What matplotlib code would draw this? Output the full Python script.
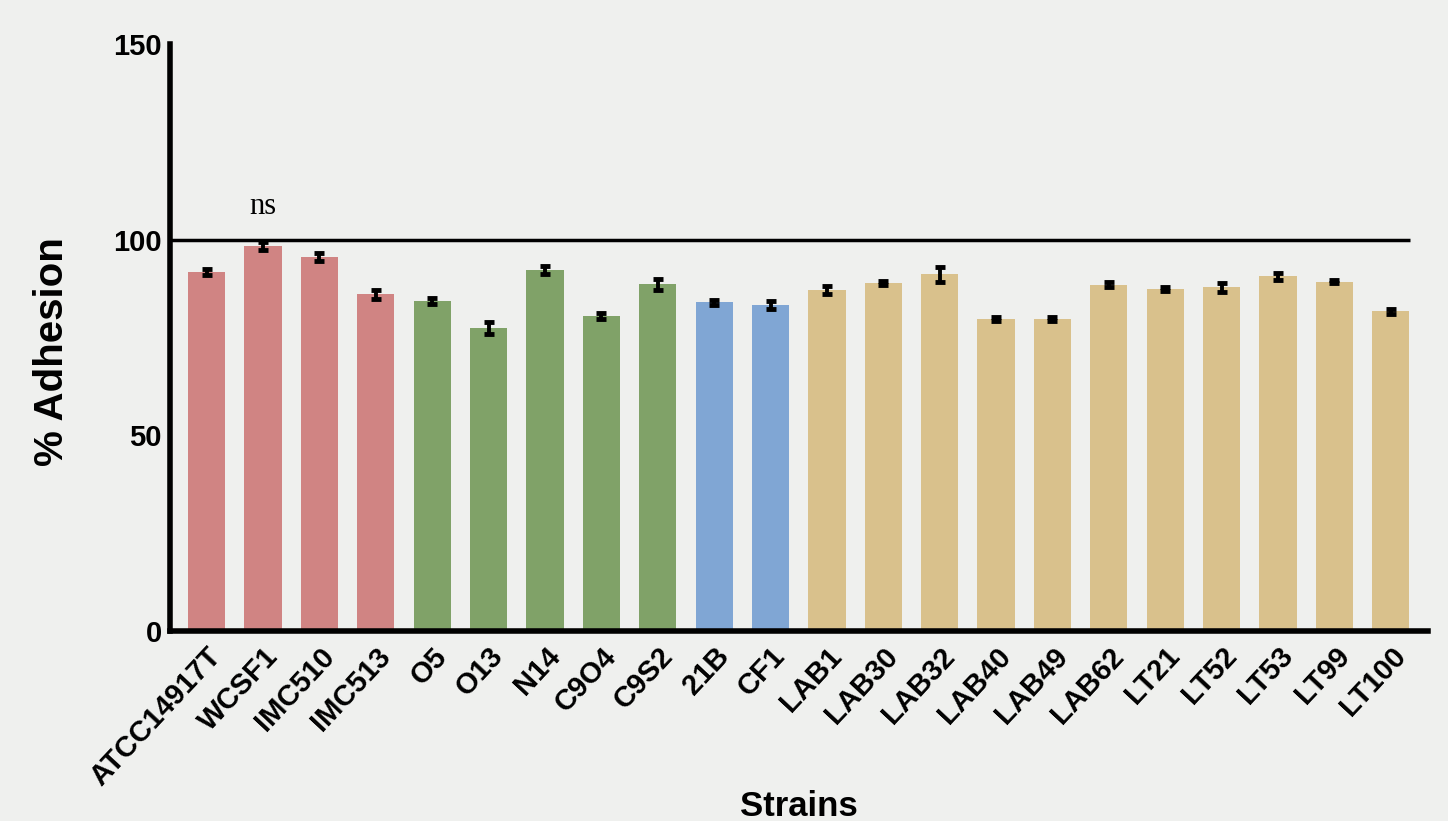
import matplotlib.pyplot as plt
import matplotlib.transforms as mtransforms
import numpy as np

# Data
strains = ['ATCC14917T', 'WCSF1', 'IMC510', 'IMC513', 'O5', 'O13', 'N14', 'C9O4',
           'C9S2', '21B', 'CF1', 'LAB1', 'LAB30', 'LAB32', 'LAB40', 'LAB49', 'LAB62',
           'LT21', 'LT52', 'LT53', 'LT99', 'LT100']
adhesion = [91.7, 98.4, 95.6, 86.0, 84.4, 77.4, 92.2, 80.4,
            88.6, 84.0, 83.2, 87.1, 89.0, 91.1, 79.8, 79.8, 88.5,
            87.5, 87.8, 90.6, 89.3, 81.7]
errors = [0.7, 1.0, 1.0, 1.1, 0.8, 1.5, 1.1, 0.8,
          1.4, 0.7, 1.0, 1.0, 0.5, 1.8, 0.5, 0.5, 0.6,
          0.5, 1.1, 0.9, 0.4, 0.6]
groups = ['red'] * 4 + ['green'] * 5 + ['blue'] * 2 + ['tan'] * 11

COLORS = {
    'red': '#d08483',
    'green': '#80a268',
    'blue': '#80a6d4',
    'tan': '#d9c18c',
}
BG = '#eff0ee'
FONT = 'Liberation Sans'

fig = plt.figure(figsize=(14.48, 8.21), dpi=100, facecolor=BG)
ax = fig.add_axes([170 / 1448, 1 - 631 / 821, (1428 - 170) / 1448, (631 - 44) / 821])
ax.set_facecolor(BG)

x = np.arange(len(strains))
ax.bar(x, adhesion, width=0.66, color=[COLORS[g] for g in groups],
       edgecolor='none', zorder=2)
ax.errorbar(x, adhesion, yerr=errors, fmt='none', ecolor='black',
            elinewidth=2.8, capsize=3.8, capthick=3.5, zorder=3)

# reference line at 100 %
ax.plot([-0.65, len(strains) - 1 + 0.34], [100, 100], color='black', lw=2.5,
        solid_capstyle='butt', zorder=4, clip_on=False)

ax.text(1, 106.5, 'ns', ha='center', va='baseline', fontsize=22,
        family='Liberation Serif')

ax.set_xlim(-0.65, 21.66)
ax.set_ylim(0, 150)
ax.set_yticks([0, 50, 100, 150])
ax.set_xticks(x)
ax.set_xticklabels(strains, rotation=47, ha='right', rotation_mode='anchor',
                   fontsize=21, fontweight='bold', family=FONT)
shift = mtransforms.ScaledTranslation(-0.1, 0, fig.dpi_scale_trans)
for lab in ax.get_xticklabels():
    lab.set_transform(lab.get_transform() + shift)
for lab in ax.get_yticklabels():
    lab.set_fontsize(21)
    lab.set_fontweight('bold')
    lab.set_family(FONT)
ax.tick_params(axis='both', length=0)
ax.tick_params(axis='y', pad=6)
ax.tick_params(axis='x', pad=8)

for s in ['top', 'right']:
    ax.spines[s].set_visible(False)
for s in ['left', 'bottom']:
    ax.spines[s].set_linewidth(4)

fig.text(52 / 1448, 1 - 352 / 821, '% Adhesion', rotation=90, ha='center',
         va='center', fontsize=29, fontweight='bold', family=FONT)
fig.text(799 / 1448, 1 - 790 / 821, 'Strains', ha='center', va='top', fontsize=25,
         fontweight='bold', family=FONT)

fig.savefig('out.png', dpi=100, facecolor=BG)
